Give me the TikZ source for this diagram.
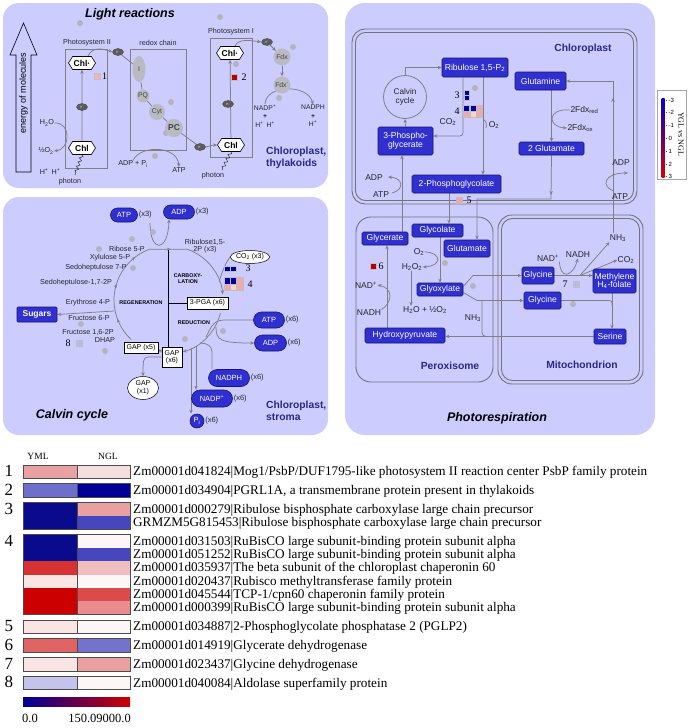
\documentclass[tikz,border=0pt]{standalone}
\usepackage{fontspec}
\setmainfont{Liberation Serif}
\setsansfont{Liberation Sans}
\usetikzlibrary{arrows.meta,shapes.misc,shapes.symbols,shapes.geometric,decorations.pathmorphing,decorations.markings,calc}
\pgfdeclarelayer{panels}
\pgfdeclarelayer{lines}
\pgfsetlayers{panels,lines,main}
\newcommand{\myfs}[2]{\fontsize{#1}{#2}\selectfont}

\definecolor{panelc}{RGB}{204,204,255}
\definecolor{boxblue}{RGB}{48,48,208}
\definecolor{boxedge}{RGB}{22,22,110}
\definecolor{lineg}{RGB}{128,128,128}
\definecolor{dotg}{RGB}{180,180,188}
\definecolor{carrierg}{RGB}{186,186,194}
\definecolor{egray}{RGB}{92,92,92}
\definecolor{navyt}{RGB}{40,40,135}
\definecolor{hmDB}{RGB}{0,0,160}
\definecolor{hmPk}{RGB}{240,168,168}
\definecolor{hmLP}{RGB}{248,210,210}
\definecolor{hmDR}{RGB}{185,0,0}
\definecolor{hmLB}{RGB}{185,185,232}
\definecolor{hmOne}{RGB}{244,180,180}
\definecolor{cbBlue}{RGB}{0,0,150}
\definecolor{cbRed}{RGB}{205,0,0}
\definecolor{lgBlue}{RGB}{0,0,210}
\definecolor{lgRed}{RGB}{215,0,0}
% table colours
\definecolor{tOneA}{RGB}{232,160,160}\definecolor{tOneB}{RGB}{246,222,222}
\definecolor{tTwoA}{RGB}{110,110,205}\definecolor{tTwoB}{RGB}{0,0,150}
\definecolor{tDB}{RGB}{10,10,140}
\definecolor{tMB}{RGB}{70,70,190}
\definecolor{tPk}{RGB}{233,160,160}
\definecolor{tWh}{RGB}{252,246,246}
\definecolor{tRd}{RGB}{215,50,50}
\definecolor{tLPk}{RGB}{240,190,190}
\definecolor{tVLP}{RGB}{250,229,229}
\definecolor{tRR}{RGB}{205,0,0}
\definecolor{tRm}{RGB}{220,75,75}
\definecolor{tRp}{RGB}{232,140,140}
\definecolor{tSixA}{RGB}{225,100,100}
\definecolor{tSixB}{RGB}{115,115,205}
\definecolor{tEightA}{RGB}{195,195,235}

\tikzset{
  gline/.style={draw=lineg, line width=0.75pt},
  garrow/.style={gline, -{Stealth[length=4pt,width=3.4pt]}},
  photon/.style={draw=black!80, line width=0.5pt, decorate, decoration={snake, amplitude=1.5pt, segment length=4.5pt, post length=1pt}},
  boxln/.style={draw=lineg, line width=0.7pt},
  cmpln/.style={draw=lineg!90!black, line width=0.9pt},
  lbl/.style={font=\sffamily\myfs{7.2}{7.6}, text=black!85, inner sep=0.3pt, align=center},
  lblP/.style={font=\sffamily\myfs{8.5}{9}, text=black!85, inner sep=0.3pt, align=center},
  caps/.style={font=\sffamily\bfseries\myfs{5.4}{6.2}, text=black, inner sep=0.3pt, align=center},
  bluebox/.style={rectangle, rounded corners=1.5pt, fill=boxblue, draw=boxedge, line width=0.6pt, text=white, font=\sffamily\myfs{8.6}{9.4}, inner sep=0.5pt, align=center},
  pill/.style={rounded rectangle, fill=boxblue, draw=boxedge, line width=0.6pt, text=white, font=\sffamily\myfs{7.5}{8}, inner sep=0.5pt},
  cnt/.style={font=\sffamily\myfs{7.5}{8}, text=black!85, inner sep=0.8pt, anchor=west},
  wbox/.style={rectangle, fill=white, draw=black, line width=0.5pt, font=\sffamily\myfs{7}{7.4}, inner sep=0.5pt, align=center},
  wellipse/.style={ellipse, fill=white, draw=black, line width=0.5pt, font=\sffamily\myfs{7}{7.6}, inner sep=0pt, align=center},
  chl/.style={signal, signal to=east and west, signal pointer angle=115, fill=white, draw=black, line width=0.6pt, font=\sffamily\bfseries\myfs{8.5}{9}, minimum width=27pt, minimum height=13pt, inner sep=0.5pt},
  eminus/.style={ellipse, fill=egray, draw=black!70, line width=0.4pt, minimum width=11pt, minimum height=7pt, inner sep=0pt, font=\sffamily\myfs{4}{4}, text=black!25},
  carrier/.style={fill=carrierg, draw=none, text=black!75, font=\sffamily\myfs{6.8}{7}, inner sep=0pt},
  gdot/.style={circle, fill=dotg, minimum size=6pt, inner sep=0pt},
  sq/.style={rectangle, minimum size=5.6pt, inner sep=0pt, draw=black!25, line width=0.3pt},
  num/.style={font=\myfs{10}{10}, inner sep=0.3pt},
  loc/.style={font=\sffamily\bfseries\myfs{10.3}{12}, text=navyt, align=left, inner sep=0pt},
  ttl/.style={font=\sffamily\bfseries\itshape\myfs{12.5}{13}, text=black, inner sep=0pt},
  hdr/.style={font=\myfs{9.5}{10}, inner sep=0pt},
  rowtxt/.style={font=\myfs{13.2}{14}, inner sep=0pt, anchor=base west},
  rownum/.style={font=\myfs{17}{18}, inner sep=0pt, anchor=base},
  gbord/.style={draw=black!70, line width=0.7pt},
  midarr/.style={decoration={markings, mark=at position #1 with {\arrow{Stealth[length=4pt,width=3.4pt]}}}, postaction={decorate}},
}

\newcommand{\hmrow}[5]{%
  \fill[#3] (23,#2) rectangle (77,#2+13.3);
  \fill[#4] (77,#2) rectangle (130,#2+13.3);
  \node[rowtxt] (#1) at (133,#2+10.6) {#5};}
\newcommand{\hmgroup}[2]{%
  \draw[gbord] (23,#1) rectangle (130,#2);
  \draw[gbord] (77,#1) -- (77,#2);}

\begin{document}
\begin{tikzpicture}[x=1pt,y=-1pt]
\useasboundingbox (0,0) rectangle (693,728);

\begin{pgfonlayer}{panels}
  \fill[white] (0,0) rectangle (693,728);
  \fill[panelc, rounded corners=16pt] (3,3) rectangle (328,188);
  \fill[panelc, rounded corners=16pt] (3,197) rectangle (328,435);
  \fill[panelc, rounded corners=20pt] (345,3) rectangle (655,435);
  \draw[boxln] (65,49) rectangle (107,168);
  \draw[boxln] (130,49) rectangle (186,150);
  \draw[boxln] (210,38) rectangle (252,157);
  \draw[cmpln, rounded corners=13pt] (352,29) rectangle (637,204);
  \draw[cmpln, rounded corners=10pt] (355.5,32.5) rectangle (633.5,200.5);
  \draw[cmpln, rounded corners=15pt] (356,217) rectangle (493,382);
  \draw[cmpln, rounded corners=14pt] (498,215) rectangle (643,384);
  \draw[cmpln, rounded corners=11pt] (501.5,218.5) rectangle (639.5,380.5);
\end{pgfonlayer}

%% ================= LIGHT REACTIONS =================
\node[ttl] (tLR) at (130,14) {Light reactions};
\draw[black, line width=0.6pt] (16,172) -- (16,55) -- (10,55) -- (23.5,23) -- (37,55) -- (31,55) -- (31,172) -- cycle;
\node[rotate=90, font=\sffamily\myfs{9}{10}, inner sep=0pt] (tEn) at (23.5,93) {energy of molecules};
\node[lbl] (lPSII) at (87,43) {Photosystem II};
\node[lbl] (lRedox) at (158,43) {redox chain};
\node[lbl] (lPSI) at (231,32) {Photosystem I};
\foreach \p [count=\i] in {(80,23),(220,17),(293,47),(236,64),(279,98),(171,102),(166,133),(155,156)}
  \node[gdot] (dL\i) at \p {};
\node[chl] (chlA) at (82,63) {Chl·};
\node[chl] (chlB) at (82,148) {Chl};
\node[chl] (chlC) at (230,53) {Chl·};
\node[chl] (chlD) at (231,145) {Chl};
\node[carrier, ellipse, minimum width=13pt, minimum height=26pt] (cI) at (139,69) {I};
\node[carrier, circle, minimum size=13pt] (cPQ) at (143,96) {PQ};
\node[carrier, circle, minimum size=16pt] (cCyt) at (157,112) {Cyt};
\node[carrier, circle, minimum size=18pt, font=\sffamily\bfseries\myfs{8.5}{9}] (cPC) at (174,128) {PC};
\node[carrier, circle, minimum size=17pt] (fdx) at (282,57) {Fdx};
\node[carrier, circle, minimum size=17pt] (fdxm) at (282,85) {Fdx\textsuperscript{-}};
\node[eminus] (eA) at (82,107) {e\textsuperscript{-}};
\node[eminus] (eB) at (118,52) {e\textsuperscript{-}};
\node[eminus] (eC) at (200,147) {e\textsuperscript{-}};
\node[eminus] (eD) at (228,104) {e\textsuperscript{-}};
\node[eminus] (eE) at (267,42) {e\textsuperscript{-}};
\node[sq, fill=hmOne] (s1) at (97,76) {};
\node[num] (n1) at (104.5,76) {1};
\node[sq, fill=hmDR] (s2) at (234,77) {};
\node[num] (n2) at (244,77) {2};
\node[lbl] (h2o) at (47,123) {H\textsubscript{2}O};
\node[lbl] (o2) at (46,151) {½O\textsubscript{2}};
\node[lbl] (hh) at (50,172) {H\textsuperscript{+}\, H\textsuperscript{+}};
\node[lbl] (ph1) at (70,182) {photon};
\node[lbl] (ph2) at (213,176) {photon};
\coordinate (phA) at (75,175);
\coordinate (phB) at (222,170);
\node[lbl] (adpPi) at (133,164) {ADP + P\textsubscript{i}};
\node[lbl] (atpL) at (179,170) {ATP};
\node[lbl, font=\sffamily\myfs{6.8}{8.6}] (nadpA) at (265,116) {NADP\textsuperscript{+}\\\textbf{+}\\H\textsuperscript{+}\, H\textsuperscript{+}};
\node[lbl, font=\sffamily\myfs{6.8}{8.6}] (nadphA) at (313,116) {NADPH\\\textbf{+}\\H\textsuperscript{+}};
\node[loc, anchor=north west] (locT) at (266,147) {Chloroplast,\\thylakoids};

\begin{pgfonlayer}{lines}
  \draw[garrow] (chlB) -- (chlA);
  \draw[garrow] (chlD) -- (chlC);
  \draw[garrow] ([xshift=6pt]chlA.north) .. controls (92,46) and (104,49) .. (eB.west);
  \draw[gline] (eB) -- (cI) -- (cPQ) -- (cCyt) -- (cPC) -- (eC);
  \draw[garrow] (eC.east) .. controls (209,146) and (213,145) .. (chlD.west);
  \draw[garrow] ([xshift=5pt]chlC.north) .. controls (238,39) and (248,40) .. (eE.west);
  \draw[garrow] (eE) -- (fdx);
  \draw[garrow] (fdx) -- (fdxm);
  \draw[garrow] (nadpA.north) .. controls (266,84) and (308,84) .. (nadphA.north);
  \draw[garrow] (h2o.east) .. controls (71,122) and (71,149) .. (o2.east);
  \draw[photon] (chlB.south) -- (phA);
  \draw[photon] (chlD.south) -- (phB);
  \draw[garrow] (adpPi.north) .. controls (140,145) and (177,145) .. (atpL.north);
\end{pgfonlayer}

%% ================= CALVIN CYCLE =================
\node[ttl] (tCC) at (72,415) {Calvin cycle};
\coordinate (cc) at (168,300);
\coordinate (vtop) at (168,250);
\foreach \p [count=\i] in {(153,232),(132,239),(99,249),(133,268),(81,324),(105,351),(185,339),(223,331)}
  \node[gdot] (dC\i) at \p {};
\node[pill, minimum width=28pt, minimum height=14pt] (atp3) at (124,215) {ATP};
\node[cnt] (atp3c) at (atp3.east) {(x3)};
\node[pill, minimum width=32pt, minimum height=14pt] (adp3) at (179,212) {ADP};
\node[cnt] (adp3c) at (adp3.east) {(x3)};
\coordinate (u1) at (150,223);
\node[lbl] (rub15) at (205,246) {Ribulose1,5-\\2P (x3)};
\node[wellipse, minimum width=36pt, minimum height=13pt] (co2c) at (250,257) {CO\textsubscript{2} (x3)};
\node[wbox, minimum width=41pt, minimum height=12pt] (pga) at (207.5,303) {3-PGA (x6)};
\node[wbox, minimum width=34pt, minimum height=11pt] (gap5) at (141,347.5) {GAP (x5)};
\node[wbox, minimum width=20pt, minimum height=20pt] (gap6) at (172,357) {GAP\\(x6)};
\node[wellipse, minimum width=31pt, minimum height=23pt] (gap1) at (143,388) {GAP\\(x1)};
\node[bluebox, font=\sffamily\bfseries\myfs{8.5}{9}, minimum width=40pt, minimum height=15pt, rounded corners=1pt] (sugars) at (37,314.5) {Sugars};
\coordinate (sugSrc) at (114,311);
\node[lbl] (lR5P) at (127,249) {Ribose 5-P};
\node[lbl] (lX5P) at (110,258) {Xylulose 5-P};
\node[lbl] (lS7P) at (96,268) {Sedoheptulose 7-P};
\node[lbl] (lS17) at (76,283) {Sedoheptulose-1,7-2P};
\node[lbl] (lE4P) at (88,303) {Erythrose 4-P};
\node[lbl] (lF6P) at (89,318) {Fructose 6-P};
\node[lbl] (lF16) at (88,332) {Fructose 1,6-2P};
\node[lbl] (lDHAP) at (105,340) {DHAP};
\node[caps] (lCarb) at (188,279) {CARBOXY-\\LATION};
\node[caps] (lRegen) at (141,303) {REGENERATION};
\node[caps] (lRed) at (194,323) {REDUCTION};
\node[sq, fill=hmDB] (h3a) at (227,268.5) {};
\node[sq, fill=hmDB] (h3b) at (233,268.5) {};
\node[num] (n3c) at (248,268.5) {3};
\node[sq, fill=hmDB, minimum size=6.3pt] (h4a) at (227,280.5) {};
\node[sq, fill=hmDB, minimum size=6.3pt] (h4b) at (233.3,280.5) {};
\node[sq, fill=hmPk, minimum size=6.3pt] (h4c) at (239.6,280.5) {};
\node[sq, fill=hmPk, minimum size=6.3pt] (h4d) at (227,286.8) {};
\node[sq, fill=hmLP, minimum size=6.3pt] (h4e) at (233.3,286.8) {};
\node[sq, fill=hmPk, minimum size=6.3pt] (h4f) at (239.6,286.8) {};
\node[num] (n4c) at (250,284) {4};
\node[num] (n8c) at (68,343) {8};
\node[sq, fill=hmLB] (h8) at (79,343) {};
\node[pill, minimum width=32pt, minimum height=16pt] (atp6) at (269,320) {ATP};
\node[cnt] (atp6c) at (atp6.east) {(x6)};
\node[pill, minimum width=33pt, minimum height=16pt] (adp6) at (270.5,343) {ADP};
\node[cnt] (adp6c) at (adp6.east) {(x6)};
\node[pill, minimum width=42pt, minimum height=17pt] (nadph6) at (229,378) {NADPH};
\node[cnt] (nadph6c) at (nadph6.east) {(x6)};
\node[pill, minimum width=42pt, minimum height=17pt] (nadp6) at (212,398.5) {NADP\textsuperscript{+}};
\node[cnt] (nadp6c) at (nadp6.east) {(x6)};
\node[circle, fill=boxblue, draw=boxedge, line width=0.6pt, text=white, minimum size=14pt, inner sep=0pt, font=\sffamily\myfs{7.5}{8}] (pi6) at (197,421) {P\textsubscript{i}};
\node[cnt] (pi6c) at (pi6.east) {(x6)};
\node[loc, anchor=north west] (locS) at (266,401) {Chloroplast,\\stroma};
\coordinate (j1) at (216,327);
\coordinate (j2) at (196,346);
\coordinate (j3) at (191,348);

\begin{pgfonlayer}{lines}
  \draw[gline, -{Stealth[length=4pt,width=3.4pt]},
        decoration={markings,
          mark=at position 0.12 with {\arrow{Stealth[length=3.6pt,width=3pt]}},
          mark=at position 0.29 with {\arrow{Stealth[length=3.6pt,width=3pt]}},
          mark=at position 0.45 with {\arrow{Stealth[length=3.6pt,width=3pt]}},
          mark=at position 0.63 with {\arrow{Stealth[length=3.6pt,width=3pt]}}},
        postaction={decorate}]
    ($(cc)+(133:54)$) arc[start angle=133, end angle=250, radius=54] -- ++(38,0) arc[start angle=290, end angle=354, radius=54];
  \draw[garrow] ($(cc)+(14:54)$) arc[start angle=14, end angle=74, radius=54];
  \draw[black, line width=0.8pt] (vtop) -- (vtop |- gap6.north);
  \draw[black, line width=0.8pt] (vtop |- pga.west) -- (pga.west);
  \draw[garrow] (sugSrc) -- (sugars.east);
  \draw[garrow] (u1) .. controls (150,253) and (168,253) .. ([xshift=-10pt]adp3.south);
  \draw[gline] (co2c.west) .. controls (226,262) and (222,272) .. (219,282);
  \draw[garrow] ([yshift=5pt]gap6.west) -- ([yshift=-1.5pt]gap5.east);
  \draw[garrow] (gap6.west) -- (148,357) .. controls (143,357) and (143,362) .. (gap1.north);
  \draw[gline] (atp6.west) -- (224,320) .. controls (212,320) and (210,330) .. (206,337);
  \draw[garrow] (j1) .. controls (216,340) and (220,343) .. (adp6.west);
  \draw[gline] ([xshift=-17pt]nadph6.north) -- (212,352) .. controls (212,346) and (207,343) .. (200,343);
  \draw[garrow] (j2) -- (j2 |- nadp6.north);
  \draw[garrow] (j3) -- (j3 |- pi6.north);
\end{pgfonlayer}

%% ================= PHOTORESPIRATION =================
\node[ttl] (tPR) at (497,418) {Photorespiration};
\node[loc] (locC) at (583,49) {Chloroplast};
\node[loc] (locP) at (450,366) {Peroxisome};
\node[loc] (locM) at (582,365) {Mitochondrion};
\foreach \p [count=\i] in {(475,88),(445,263),(473,286),(573,304)}
  \node[gdot] (dP\i) at \p {};
\node[bluebox, minimum width=66pt, minimum height=19pt] (rub) at (475,67.5) {Ribulose 1,5-P\textsubscript{2}};
\node[circle, draw=lineg, line width=0.8pt, minimum size=43pt, inner sep=0pt, align=center, font=\sffamily\myfs{8.2}{9}, text=black!85] (calv) at (405,97) {Calvin\\cycle};
\node[bluebox, minimum width=55pt, minimum height=28pt] (pgly) at (405.5,141) {3-Phospho-\\glycerate};
\node[bluebox, minimum width=89pt, minimum height=18pt] (pgc) at (456.5,184) {2-Phosphoglycolate};
\node[bluebox, minimum width=51pt, minimum height=18pt] (glnm) at (540.5,81) {Glutamine};
\node[bluebox, minimum width=65pt, minimum height=13pt] (glu2) at (551.5,148.5) {2 Glutamate};
\node[bluebox, minimum width=46pt, minimum height=13pt] (glyc) at (385,238.5) {Glycerate};
\node[bluebox, minimum width=51pt, minimum height=13pt] (glyco) at (437.5,230.5) {Glycolate};
\node[bluebox, minimum width=46pt, minimum height=17pt] (glut) at (467,248.5) {Glutamate};
\node[bluebox, minimum width=46pt, minimum height=13pt] (glyox) at (440,289.5) {Glyoxylate};
\node[bluebox, minimum width=80pt, minimum height=15pt] (hpyr) at (405,335.5) {Hydroxypyruvate};
\node[bluebox, minimum width=32pt, minimum height=17pt] (glyA) at (538,275.5) {Glycine};
\node[bluebox, minimum width=37pt, minimum height=17pt] (glyB) at (542.5,300.5) {Glycine};
\node[bluebox, minimum width=43pt, minimum height=24pt] (mthf) at (614.5,281) {Methylene\\[-1pt]H\textsubscript{4}-folate};
\node[bluebox, minimum width=32pt, minimum height=15pt] (ser) at (610,336.5) {Serine};
\node[lblP] (co2p) at (448,122) {CO\textsubscript{2}};
\node[lblP] (o2r) at (494,125) {O\textsubscript{2}};
\node[sq, fill=hmDB, minimum size=5pt] (p3a) at (467,92.5) {};
\node[sq, fill=hmDB, minimum size=5pt] (p3b) at (467,97.5) {};
\node[num] (n3p) at (457,95) {3};
\node[sq, fill=hmDB, minimum size=6pt] (p4a) at (466.5,108.5) {};
\node[sq, fill=hmDB, minimum size=6pt] (p4b) at (473,108.5) {};
\node[sq, fill=hmPk, minimum size=6pt] (p4c) at (479.5,108.5) {};
\node[sq, fill=hmPk, minimum size=6pt] (p4d) at (466.5,114.5) {};
\node[sq, fill=hmLP, minimum size=6pt] (p4e) at (473,114.5) {};
\node[sq, fill=hmPk, minimum size=6pt] (p4f) at (479.5,114.5) {};
\node[num] (n4p) at (457,111) {4};
\node[sq, fill=hmPk, minimum size=6pt] (p5) at (459.5,200) {};
\node[num] (n5p) at (469,200) {5};
\node[lblP, anchor=west] (fdxr) at (570,110) {2Fdx\textsubscript{red}};
\node[lblP, anchor=west] (fdxo) at (567,128) {2Fdx\textsubscript{ox}};
\node[lblP] (adpL) at (374,178) {ADP};
\node[lblP] (atpLL) at (381,195) {ATP};
\node[lblP] (adpR) at (621,163) {ADP};
\node[lblP] (atpR) at (620,197) {ATP};
\coordinate (nhUp) at (613,233);
\node[lblP] (o2p) at (419,252) {O\textsubscript{2}};
\node[lblP] (h2o2) at (412,267) {H\textsubscript{2}O\textsubscript{2}};
\node[lblP] (h2oO) at (425,310) {H\textsubscript{2}O + ½O\textsubscript{2}};
\node[sq, fill=hmDR, minimum size=6pt] (p6) at (373,266) {};
\node[num] (n6p) at (381,266) {6};
\node[lblP] (nadL) at (366,285) {NAD\textsuperscript{+}};
\node[lblP] (nadhL) at (369,313) {NADH};
\node[lblP] (nh3p) at (473,318) {NH\textsubscript{3}};
\node[lblP] (nadM) at (548,258) {NAD\textsuperscript{+}};
\node[lblP] (nadhM) at (578,255) {NADH};
\node[lblP] (nh3m) at (618,238) {NH\textsubscript{3}};
\node[lblP] (co2m) at (626,260) {CO\textsubscript{2}};
\node[num] (n7p) at (565,284) {7};
\node[sq, fill=hmLB, minimum size=6pt] (p7) at (576,284) {};
\coordinate (mj) at (580,275.5);

\begin{pgfonlayer}{lines}
  \draw[garrow] (calv.north) |- (rub.west);
  \draw[garrow] (pgly.north) -- (calv.south);
  \draw[garrow] ([xshift=-12pt]rub.south) -- (463,129) .. controls (463,136) and (463,136) .. (456,136) -- ([yshift=5pt]pgly.east);
  \draw[garrow] ([xshift=8pt]rub.south) -- ([xshift=8pt]rub.south |- pgc.north);
  \draw[gline] (483,119) .. controls (486,121) and (487,124) .. (486,128);
  \draw[garrow] (glu2.north |- glnm.south) -- (glu2.north);
  \draw[garrow] (fdxr.west) .. controls (547,108) and (547,127) .. (fdxo.west);
  \draw[garrow, midarr=0.68] (nhUp) |- (glnm.east);
  \draw[garrow] (614,191) .. controls (601,187) and (603,173) .. (628,173);
  \draw[garrow] (392,193) .. controls (404,190) and (404,178) .. (388,177);
  \draw[garrow] ([xshift=17pt]glyc.north) -- ([xshift=17pt]glyc.north |- pgly.south);
  \draw[garrow] ([xshift=-7.5pt]pgc.south) -- ([xshift=-7.5pt]pgc.south |- glyco.north);
  \draw[garrow, midarr=0.25] (glu2.south) -- (551,199) -- (477,199) -- ([xshift=10pt]glut.north);
  \draw[garrow] (glyox.north |- glyco.south) -- (glyox.north);
  \draw[garrow] (o2p.east) .. controls (441,252) and (443,266) .. (h2o2.east);
  \draw[garrow] ([xshift=-1pt]h2o2.south) -- ([xshift=-1pt]h2o2.south |- h2oO.north);
  \draw[garrow] (nadhL.north east) .. controls (393,302) and (393,288) .. (nadL.east);
  \draw[garrow] ([xshift=-18pt]hpyr.north) -- ([xshift=-18pt]hpyr.north |- glyc.south);
  \draw[garrow] (ser.west) -- (ser.west -| hpyr.east);
  \draw[gline, rounded corners=4pt] (482,300.5) -- (482,336.5) -- (492,336.5);
  \draw[garrow] ([yshift=3pt]glyox.east) -- (473,275.5) -- (glyA.west);
  \draw[garrow] ([yshift=-3pt]glyox.east) -- (477,300.5) -- (glyB.west);
  \draw[garrow] (glyA.east) -- (glyA.east -| mthf.west);
  \draw[garrow] (nadM.south east) .. controls (560,279) and (572,278) .. (nadhM.south);
  \draw[garrow] (mj) -- (nh3m.south west);
  \draw[garrow] (mj) -- (co2m.west);
  \draw[garrow] ([xshift=-2.5pt]mthf.south) -- ([xshift=-2.5pt]mthf.south |- ser.north);
  \draw[gline] (glyB.east) -- (606,300.5) .. controls (612,300.5) .. (612,306);
\end{pgfonlayer}

%% ================= LEGEND (pathway) =================
\draw[black!35, fill=white, line width=0.5pt] (657,90) rectangle (686,179);
\shade[top color=lgBlue, middle color=white, bottom color=lgRed] (661.5,98) rectangle (664.5,177);
\foreach \v/\yy in {-3/100,-2/112,-1/125,0/138,1/151,2/164,3/176} {
  \draw[black!70, line width=0.5pt] (665.5,\yy) -- (667,\yy);
  \node[font=\sffamily\myfs{6}{6}, anchor=west, inner sep=0.5pt] (lgt\yy) at (668,\yy) {\v};
}
\node[rotate=-90, font=\myfs{8}{8}, inner sep=0pt] (lgT) at (681,134) {YGL vs NGL};

%% ================= TABLE =================
\node[hdr] (hY) at (38,456) {YML};
\node[hdr] (hN) at (108,456) {NGL};

\hmrow{r1}{465}{tOneA}{tOneB}{Zm00001d041824|Mog1/PsbP/DUF1795-like photosystem II reaction center PsbP family protein}
\hmgroup{465}{478.3}
\node[rownum] (nr1) at (9,476.5) {1};

\hmrow{r2}{483.8}{tTwoA}{tTwoB}{Zm00001d034904|PGRL1A, a transmembrane protein present in thylakoids}
\hmgroup{483.8}{497.1}
\node[rownum] (nr2) at (9,495.3) {2};

\hmrow{r3a}{502.6}{tDB}{tPk}{Zm00001d000279|Ribulose bisphosphate carboxylase large chain precursor}
\hmrow{r3b}{515.9}{tDB}{tMB}{GRMZM5G815453|Ribulose bisphosphate carboxylase large chain precursor}
\hmgroup{502.6}{529.2}
\node[rownum] (nr3) at (9,514.1) {3};

\hmrow{r4a}{534.7}{tDB}{tWh}{Zm00001d031503|RuBisCO large subunit-binding protein subunit alpha}
\hmrow{r4b}{548.0}{tDB}{tMB}{Zm00001d051252|RuBisCO large subunit-binding protein subunit alpha}
\hmrow{r4c}{561.3}{tRd}{tLPk}{Zm00001d035937|The beta subunit of the chloroplast chaperonin 60}
\hmrow{r4d}{574.6}{tVLP}{tWh}{Zm00001d020437|Rubisco methyltransferase family protein}
\hmrow{r4e}{587.9}{tRR}{tRm}{Zm00001d045544|TCP-1/cpn60 chaperonin family protein}
\hmrow{r4f}{601.2}{tRR}{tRp}{Zm00001d000399|RuBisCO large subunit-binding protein subunit alpha}
\hmgroup{534.7}{614.5}
\node[rownum] (nr4) at (9,546.2) {4};

\hmrow{r5}{620}{tVLP}{tWh}{Zm00001d034887|2-Phosphoglycolate phosphatase 2 (PGLP2)}
\hmgroup{620}{633.3}
\node[rownum] (nr5) at (9,631.5) {5};

\hmrow{r6}{638.8}{tSixA}{tSixB}{Zm00001d014919|Glycerate dehydrogenase}
\hmgroup{638.8}{652.1}
\node[rownum] (nr6) at (9,650.3) {6};

\hmrow{r7}{657.6}{tVLP}{tPk}{Zm00001d023437|Glycine dehydrogenase}
\hmgroup{657.6}{670.9}
\node[rownum] (nr7) at (9,669.1) {7};

\hmrow{r8}{676.4}{tEightA}{tWh}{Zm00001d040084|Aldolase superfamily protein}
\hmgroup{676.4}{689.7}
\node[rownum] (nr8) at (9,687.9) {8};

\shade[left color=cbBlue, middle color=white, right color=cbRed] (23,697) rectangle (130,706);
\node[font=\myfs{12.5}{13}, anchor=west, inner sep=0pt] (cb0) at (22,718) {0.0};
\node[font=\myfs{12.5}{13}, anchor=east, inner sep=0pt] (cb1) at (131,718) {150.09000.0};
\end{tikzpicture}
\end{document}
